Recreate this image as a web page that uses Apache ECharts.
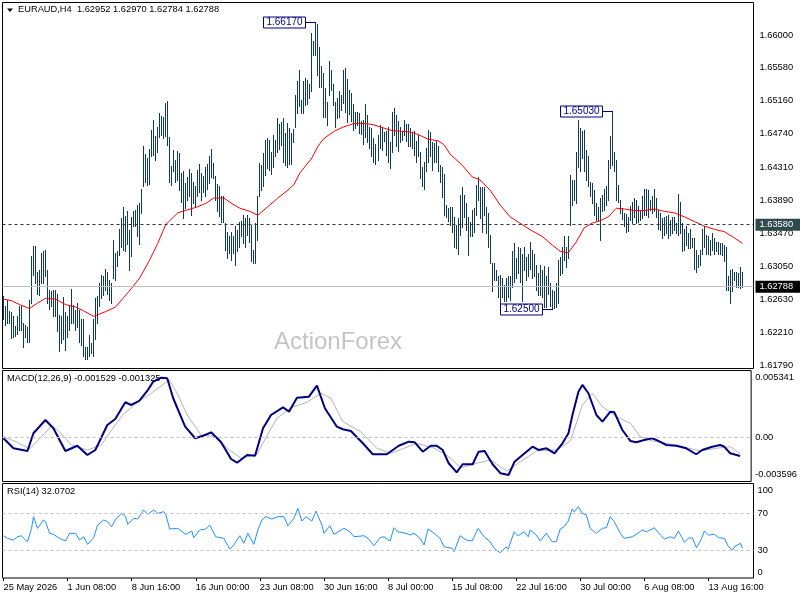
<!DOCTYPE html>
<html>
<head>
<meta charset="utf-8">
<title>EURAUD H4</title>
<script src="https://cdn.jsdelivr.net/npm/echarts@6.0.0/dist/echarts.min.js"></script>
<style>
  html, body { margin: 0; padding: 0; background: #fff; }
  #main { width: 800px; height: 600px; }
</style>
</head>
<body>
<div id="main"></div>
<script>
// H4 bars, 25 May 2026 00:00 onwards, one entry per bar (high / low)
var highs = [
  // 25 May - 3 Jun
  1.6267,1.6254,1.6262,1.6248,1.6246,1.6241,1.6229,1.6241,1.6254,1.6254,
  1.6232,1.6230,1.6227,1.6262,1.6318,1.6331,1.6331,1.6297,1.6300,1.6322,
  1.6324,1.6326,1.6300,1.6275,1.6273,1.6275,1.6275,1.6270,1.6243,1.6241,
  1.6266,1.6246,1.6241,1.6256,1.6276,1.6256,1.6249,1.6258,1.6249,1.6237,
  1.6237,1.6202,1.6202,1.6217,1.6207,1.6237,1.6264,1.6267,1.6283,1.6294,
  1.6292,1.6302,1.6298,1.6288,1.6283,1.6339,1.6322,1.6324,1.6352,1.6366,
  1.6381,1.6369,1.6375,1.6351,1.6368,1.6376,1.6377,1.6383,1.6385,1.6404,
  1.6458,1.6448,1.6443,1.6455,
  // 8 Jun - 22 Jun
  1.6479,1.6491,1.6471,1.6483,1.6501,1.6497,1.6496,1.6513,1.6516,1.6470,
  1.6433,1.6453,1.6441,1.6452,1.6449,1.6424,1.6426,1.6411,1.6419,1.6429,
  1.6424,1.6413,1.6407,1.6428,1.6436,1.6424,1.6420,1.6432,1.6436,1.6445,
  1.6454,1.6437,1.6420,1.6410,1.6407,1.6394,1.6394,1.6360,1.6349,1.6343,
  1.6349,1.6343,1.6356,1.6351,1.6362,1.6363,1.6370,1.6366,1.6370,1.6366,
  1.6358,1.6326,1.6360,1.6394,1.6437,1.6434,1.6449,1.6466,1.6468,1.6466,
  1.6451,1.6472,1.6466,1.6494,1.6487,1.6489,1.6494,1.6475,1.6488,1.6481,
  1.6475,1.6480,1.6524,1.6541,1.6555,
  // 23 Jun - 8 Jul
  1.6517,1.6541,1.6545,1.6543,1.6537,1.6602,1.6592,1.6617,1.6614,1.6585,
  1.6560,1.6551,1.6533,1.6515,1.6567,1.6555,1.6538,1.6515,1.6520,1.6529,
  1.6524,1.6555,1.6558,1.6544,1.6530,1.6526,1.6512,1.6502,1.6502,1.6500,
  1.6490,1.6492,1.6512,1.6498,1.6483,1.6481,1.6468,1.6461,1.6472,1.6485,
  1.6483,1.6476,1.6477,1.6483,1.6464,1.6502,1.6507,1.6498,1.6490,1.6483,
  1.6477,1.6492,1.6486,1.6487,1.6481,1.6476,1.6477,1.6465,1.6472,1.6451,
  1.6432,1.6438,1.6456,1.6479,1.6476,1.6464,1.6462,1.6466,1.6459,1.6434,
  1.6432,1.6422,1.6383,1.6379,1.6380,
  // 8 Jul - 28 Jul
  1.6380,1.6368,1.6358,1.6366,1.6396,1.6406,1.6396,1.6385,1.6368,1.6361,
  1.6377,1.6379,1.6409,1.6419,1.6406,1.6406,1.6406,1.6381,1.6373,1.6345,
  1.6309,1.6309,1.6300,1.6292,1.6294,1.6290,1.6281,1.6290,1.6292,1.6292,
  1.6324,1.6334,1.6315,1.6330,1.6328,1.6321,1.6330,1.6317,1.6321,1.6336,
  1.6326,1.6321,1.6307,1.6296,1.6307,1.6300,1.6305,1.6292,1.6304,1.6283,
  1.6275,1.6273,1.6284,1.6313,1.6317,1.6330,1.6344,1.6330,1.6343,1.6421,
  1.6415,1.6415,1.6451,1.6492,1.6481,1.6477,1.6479,1.6453,1.6446,1.6413,
  1.6411,1.6402,1.6385,1.6381,1.6392,
  // 28 Jul - 18 Aug
  1.6396,1.6403,1.6407,1.6441,1.6471,1.6503,1.6451,1.6441,1.6409,1.6390,
  1.6379,1.6373,1.6372,1.6368,1.6382,1.6387,1.6392,1.6390,1.6382,1.6377,
  1.6394,1.6404,1.6403,1.6402,1.6390,1.6394,1.6403,1.6392,1.6377,1.6373,
  1.6366,1.6368,1.6369,1.6370,1.6364,1.6368,1.6368,1.6360,1.6397,1.6387,
  1.6360,1.6353,1.6356,1.6347,1.6352,1.6341,1.6341,1.6326,1.6319,1.6326,
  1.6353,1.6356,1.6345,1.6343,1.6339,1.6347,1.6341,1.6336,1.6336,1.6334,
  1.6334,1.6332,1.6330,1.6292,1.6300,1.6302,1.6298,1.6298,1.6296,1.6304,
  1.6297
];
var lows = [
  1.6238,1.6230,1.6232,1.6233,1.6213,1.6215,1.6216,1.6218,1.6224,1.6224,
  1.6202,1.6215,1.6208,1.6208,1.6258,1.6294,1.6284,1.6270,1.6268,1.6284,
  1.6284,1.6292,1.6258,1.6251,1.6254,1.6241,1.6241,1.6222,1.6197,1.6207,
  1.6212,1.6198,1.6215,1.6224,1.6232,1.6232,1.6224,1.6228,1.6208,1.6205,
  1.6190,1.6186,1.6187,1.6190,1.6194,1.6190,1.6212,1.6232,1.6254,1.6264,
  1.6268,1.6275,1.6270,1.6262,1.6258,1.6290,1.6287,1.6305,1.6319,1.6330,
  1.6326,1.6324,1.6333,1.6300,1.6318,1.6356,1.6356,1.6343,1.6333,1.6373,
  1.6407,1.6412,1.6409,1.6410,
  1.6445,1.6447,1.6441,1.6451,1.6470,1.6472,1.6468,1.6471,1.6460,1.6413,
  1.6409,1.6426,1.6413,1.6415,1.6402,1.6387,1.6366,1.6379,1.6390,1.6394,
  1.6370,1.6385,1.6381,1.6394,1.6400,1.6390,1.6400,1.6394,1.6404,1.6411,
  1.6419,1.6417,1.6390,1.6375,1.6369,1.6361,1.6361,1.6326,1.6315,1.6322,
  1.6313,1.6322,1.6307,1.6324,1.6330,1.6343,1.6334,1.6330,1.6345,1.6336,
  1.6311,1.6309,1.6309,1.6339,1.6394,1.6402,1.6407,1.6421,1.6430,1.6428,
  1.6423,1.6432,1.6445,1.6451,1.6455,1.6460,1.6438,1.6434,1.6432,1.6436,
  1.6436,1.6464,1.6483,1.6500,1.6509,
  1.6500,1.6500,1.6511,1.6512,1.6520,1.6528,1.6574,1.6575,1.6549,1.6534,
  1.6534,1.6495,1.6496,1.6485,1.6524,1.6530,1.6511,1.6483,1.6494,1.6496,
  1.6504,1.6513,1.6502,1.6489,1.6499,1.6490,1.6479,1.6481,1.6485,1.6475,
  1.6474,1.6461,1.6470,1.6464,1.6456,1.6445,1.6438,1.6436,1.6441,1.6456,
  1.6453,1.6465,1.6447,1.6438,1.6430,1.6451,1.6473,1.6458,1.6452,1.6464,
  1.6466,1.6473,1.6465,1.6458,1.6458,1.6456,1.6447,1.6438,1.6445,1.6418,
  1.6407,1.6404,1.6426,1.6438,1.6445,1.6428,1.6438,1.6438,1.6426,1.6413,
  1.6393,1.6370,1.6368,1.6363,1.6358,
  1.6349,1.6330,1.6328,1.6321,1.6345,1.6355,1.6368,1.6351,1.6319,1.6343,
  1.6343,1.6349,1.6370,1.6390,1.6366,1.6349,1.6370,1.6347,1.6330,1.6309,
  1.6273,1.6287,1.6287,1.6266,1.6258,1.6266,1.6260,1.6260,1.6266,1.6262,
  1.6279,1.6285,1.6290,1.6296,1.6285,1.6260,1.6300,1.6287,1.6292,1.6302,
  1.6290,1.6292,1.6275,1.6268,1.6268,1.6266,1.6253,1.6253,1.6270,1.6254,
  1.6250,1.6252,1.6253,1.6258,1.6294,1.6296,1.6313,1.6304,1.6315,1.6358,
  1.6383,1.6389,1.6385,1.6432,1.6426,1.6443,1.6426,1.6415,1.6407,1.6394,
  1.6385,1.6370,1.6364,1.6364,1.6338,
  1.6376,1.6377,1.6383,1.6390,1.6430,1.6434,1.6426,1.6390,1.6387,1.6373,
  1.6365,1.6356,1.6349,1.6350,1.6364,1.6360,1.6368,1.6360,1.6361,1.6364,
  1.6366,1.6370,1.6370,1.6368,1.6377,1.6373,1.6375,1.6368,1.6353,1.6351,
  1.6341,1.6345,1.6347,1.6341,1.6345,1.6347,1.6351,1.6347,1.6345,1.6347,
  1.6324,1.6326,1.6332,1.6328,1.6328,1.6330,1.6302,1.6298,1.6304,1.6307,
  1.6321,1.6330,1.6321,1.6321,1.6319,1.6326,1.6321,1.6324,1.6321,1.6321,
  1.6319,1.6311,1.6275,1.6275,1.6258,1.6273,1.6287,1.6279,1.6279,1.6277,
  1.6278
];

// red moving average, read at bar positions
var maIdx = [0,4,8,13,17,21,26,31,36,40,45,51,56,60,64,68,73,77,81,87,92,96,101,105,110,114,118,123,127,132,137,142,145,148,154,157,160,165,170,175,180,184,189,194,199,204,207,212,217,220,223,229,234,238,243,248,253,259,264,269,274,278,282,286,290,294,298,302,306,310,315,320,325,330,335,340,345,350,355,360,365,369];
var maVal = [1.6263,1.6261,1.6256,1.6251,1.6258,1.6264,1.6263,1.6256,1.6253,1.6248,1.6241,1.6247,1.6253,1.6265,1.6277,1.6290,1.6313,1.6334,1.6358,1.6373,1.6377,1.6380,1.6385,1.6392,1.6392,1.6385,1.6379,1.6375,1.6370,1.6381,1.6392,1.6402,1.6409,1.6424,1.6443,1.6458,1.6468,1.6477,1.6483,1.6487,1.6487,1.6486,1.6482,1.6478,1.6477,1.6476,1.6473,1.6467,1.6465,1.6460,1.6448,1.6434,1.6419,1.6415,1.6402,1.6383,1.6368,1.6358,1.6350,1.6343,1.6332,1.6324,1.6322,1.6336,1.6354,1.6360,1.6363,1.6368,1.6379,1.6378,1.6376,1.6376,1.6378,1.6375,1.6373,1.6368,1.6362,1.6356,1.6352,1.6349,1.6341,1.6334];

// MACD(12,26,9) main and signal
var macdIdx = [0,5,12,15,21,25,31,37,42,46,52,56,61,64,68,72,75,79,82,85,91,96,100,104,109,114,117,122,126,130,134,140,143,147,153,157,161,167,170,174,180,185,192,198,203,206,210,214,217,220,223,227,230,235,238,241,245,249,253,256,260,265,268,272,276,280,283,285,288,290,293,297,300,304,306,310,314,317,321,325,328,332,337,342,347,350,355,359,361,364,369];
var macdVal = [-0.00008,-0.00090,-0.00112,0.00033,0.00142,0.00074,-0.00112,-0.00069,-0.00145,-0.00104,0.00101,0.00150,0.00287,0.00265,0.00298,0.00380,0.00456,0.00489,0.00484,0.00320,0.00087,-0.00008,0.00013,0.00041,-0.00041,-0.00178,-0.00208,-0.00145,-0.00151,0.00074,0.00183,0.00246,0.00210,0.00325,0.00333,0.00423,0.00238,0.00087,0.00066,0.00052,-0.00049,-0.00139,-0.00139,-0.00069,-0.00036,-0.00041,-0.00118,-0.00069,-0.00069,-0.00104,-0.00213,-0.00287,-0.00221,-0.00221,-0.00118,-0.00112,-0.00221,-0.00295,-0.00309,-0.00200,-0.00145,-0.00077,-0.00104,-0.00090,-0.00131,-0.00049,0.00033,0.00183,0.00374,0.00429,0.00361,0.00183,0.00128,0.00210,0.00205,0.00060,-0.00030,-0.00041,-0.00022,-0.00008,-0.00030,-0.00063,-0.00069,-0.00090,-0.00139,-0.00104,-0.00077,-0.00063,-0.00077,-0.00131,-0.00153];
var sigIdx = [0,7,13,19,24,28,34,42,49,55,60,67,74,83,87,92,99,107,112,119,127,132,137,144,152,159,164,170,179,187,194,199,207,215,222,229,237,244,252,259,267,277,284,290,295,300,307,314,319,325,332,340,349,357,364,369];
var sigVal = [0.00005,-0.00041,-0.00096,0.00005,0.00093,0.00046,-0.00063,-0.00104,-0.00063,0.00079,0.00189,0.00287,0.00361,0.00470,0.00361,0.00183,0.00019,0.00005,-0.00090,-0.00172,-0.00139,0.00013,0.00156,0.00243,0.00287,0.00361,0.00320,0.00128,0.00046,-0.00090,-0.00131,-0.00100,-0.00049,-0.00085,-0.00145,-0.00249,-0.00213,-0.00186,-0.00276,-0.00200,-0.00112,-0.00104,-0.00030,0.00265,0.00361,0.00251,0.00169,0.00115,0.00005,-0.00030,-0.00049,-0.00077,-0.00112,-0.00090,-0.00077,-0.00133];

// RSI(14)
var rsiIdx = [0,2,5,7,9,10,12,14,15,17,20,21,23,25,28,31,33,36,38,40,42,45,47,50,52,54,56,59,61,62,65,67,70,72,75,77,80,81,83,87,91,94,95,98,101,103,106,110,113,115,118,120,122,125,127,129,131,134,137,140,142,145,147,149,151,154,156,159,160,163,165,170,173,175,180,182,185,188,190,193,195,197,201,203,205,208,210,212,215,218,220,224,225,228,231,234,237,240,243,245,248,251,252,255,257,260,262,263,266,268,271,274,276,278,280,282,284,285,287,289,291,293,296,299,301,303,305,308,310,314,316,319,321,324,325,328,330,333,335,337,340,342,344,346,348,350,352,355,357,360,362,364,365,368,369];
var rsiVal = [45.7,42.9,41.1,44.6,45.7,42.9,39.2,53.7,66.3,53.7,62.7,60.9,48.3,47.2,42.9,40.0,48.3,48.3,41.1,44.6,36.4,43.6,57.3,62.7,60.9,55.5,63.8,69.9,66.3,58.0,64.5,63.8,73.5,68.9,73.5,69.9,71.7,68.9,53.0,53.7,47.2,50.8,43.6,51.9,53.0,57.3,44.6,42.9,31.3,35.7,45.7,37.5,48.3,36.4,51.9,62.7,66.3,63.8,66.3,66.3,56.5,64.5,75.3,61.6,66.3,61.6,72.4,57.3,48.3,56.5,47.2,53.7,50.0,44.6,45.7,42.9,34.9,43.6,44.6,40.0,54.4,50.0,48.3,46.5,48.3,42.9,35.7,53.0,48.3,42.9,33.8,32.1,28.4,45.7,41.1,40.0,53.7,44.6,39.2,32.1,27.3,33.8,31.3,50.0,45.7,50.0,44.6,51.9,46.5,40.0,48.3,39.2,39.2,53.0,55.5,61.6,74.6,71.7,77.1,69.9,68.1,53.7,48.3,53.7,54.4,66.3,60.9,48.3,42.9,44.6,47.2,51.9,50.0,53.0,54.4,46.5,42.2,44.6,42.9,50.8,38.6,42.9,43.6,32.8,40.0,50.8,46.5,47.2,43.6,42.9,33.8,30.3,33.8,37.5,32.1];

// axis labels
var priceTicks = [1.66000,1.65580,1.65160,1.64740,1.64310,1.63890,1.63470,1.63050,1.62630,1.62210,1.61790];
var dateLabels = ['25 May 2026','1 Jun 08:00','8 Jun 16:00','16 Jun 00:00','23 Jun 08:00','30 Jun 16:00','8 Jul 00:00','15 Jul 08:00','22 Jul 16:00','30 Jul 00:00','6 Aug 08:00','13 Aug 16:00'];
var lastOhlc = [1.62952, 1.62970, 1.62784, 1.62788];
var levelLine = 1.63580;
var noteBars = [[156, 'high'], [304, 'high'], [274, 'low']];

var FONT = 'Liberation Sans';
var barColor = '#103b57';
var dateTicks = dateLabels.map(function (d, k) { return k * 32; });

function pairs(idx, val) {
    return idx.map(function (x, k) { return [x, val[k]]; });
}

var barData = highs.map(function (h, i) { return [i, h, lows[i]]; });

var chart = echarts.init(document.getElementById('main'));

function xAxisFor(g) {
    return {
        type: 'value', gridIndex: g, min: -0.5, max: 374.5,
        show: g === 2,
        axisLine: { show: false, onZero: false },
        splitLine: { show: false },
        axisTick: { show: true, length: 3, customValues: dateTicks, lineStyle: { color: '#000' } },
        axisLabel: {
            customValues: dateTicks, align: 'left', margin: 5,
            fontFamily: FONT, fontSize: 9.3, color: '#000',
            formatter: function (v) { return dateLabels[Math.round(v / 32)] || ''; }
        }
    };
}

function sideAxis(g, min, max, values, margin, fmt) {
    return {
        type: 'value', gridIndex: g, position: 'right',
        min: min, max: max,
        axisLine: { show: false, onZero: false },
        splitLine: { show: false },
        axisTick: { show: false },
        axisLabel: {
            customValues: values, margin: margin,
            fontFamily: FONT, fontSize: 9.3, color: '#000',
            formatter: fmt
        }
    };
}

var option = {
    animation: false,
    backgroundColor: '#fff',
    grid: [
        { left: 2.5, top: 2.5, width: 751, height: 366, show: true, borderColor: '#000', borderWidth: 1 },
        { left: 2.5, top: 370.5, width: 751, height: 111, show: true, borderColor: '#000', borderWidth: 1 },
        { left: 2.5, top: 483.5, width: 751, height: 94.5, show: true, borderColor: '#000', borderWidth: 1 }
    ],
    xAxis: [xAxisFor(0), xAxisFor(1), xAxisFor(2)],
    yAxis: [
        sideAxis(0, 1.617445, 1.664147, priceTicks, 6, function (v) { return v.toFixed(5); }),
        sideAxis(1, -0.003623, 0.005475, [0.004885, 0, -0.003033], 4, function (v) {
            if (v > 0.001) return '0.005341';
            if (v < -0.001) return '-0.003596';
            return '0.00';
        }),
        sideAxis(2, 0, 102.2, [94.4, 70, 30, 6.2], 4, function (v) {
            if (v > 90) return '100';
            if (v < 10) return '0';
            return String(Math.round(v));
        })
    ],
    series: [
        {
            type: 'custom', name: 'EURAUD', xAxisIndex: 0, yAxisIndex: 0,
            data: barData, encode: { x: 0, y: [1, 2] },
            renderItem: function (params, api) {
                var top = api.coord([api.value(0), api.value(1)]);
                var bot = api.coord([api.value(0), api.value(2)]);
                var x = Math.floor(top[0]) + 0.5;
                return {
                    type: 'line',
                    shape: { x1: x, y1: Math.round(top[1]), x2: x, y2: Math.round(bot[1]) + 1 },
                    style: { stroke: barColor, lineWidth: 1 }
                };
            }
        },
        {
            type: 'line', name: 'MA', xAxisIndex: 0, yAxisIndex: 0,
            data: pairs(maIdx, maVal), symbol: 'none',
            lineStyle: { color: '#ff0000', width: 1 },
            markLine: {
                silent: true, symbol: ['none', 'none'], animation: false, precision: 5,
                data: [
                    {
                        yAxis: levelLine,
                        lineStyle: { color: '#333', type: [3, 3], width: 1 },
                        label: {
                            show: true, position: 'end', distance: 2,
                            formatter: levelLine.toFixed(5),
                            backgroundColor: '#2f4a4a', color: '#fff',
                            padding: [2, 8, 1, 4], fontFamily: FONT, fontSize: 9.3
                        }
                    },
                    {
                        yAxis: lastOhlc[3],
                        lineStyle: { color: '#c0c0c0', type: 'solid', width: 1 },
                        label: {
                            show: true, position: 'end', distance: 2,
                            formatter: lastOhlc[3].toFixed(5),
                            backgroundColor: '#000', color: '#fff',
                            padding: [2, 8, 1, 4], fontFamily: FONT, fontSize: 9.3
                        }
                    }
                ]
            }
        },
        {
            type: 'line', name: 'Signal', xAxisIndex: 1, yAxisIndex: 1,
            data: pairs(sigIdx, sigVal), symbol: 'none',
            lineStyle: { color: '#b4b4b4', width: 1 },
            markLine: {
                silent: true, symbol: ['none', 'none'], animation: false, precision: 6,
                label: { show: false },
                lineStyle: { color: '#c0c0c0', type: [3, 3], width: 1 },
                data: [{ yAxis: 0 }]
            }
        },
        {
            type: 'line', name: 'MACD', xAxisIndex: 1, yAxisIndex: 1,
            data: pairs(macdIdx, macdVal), symbol: 'none',
            lineStyle: { color: '#000080', width: 2 }
        },
        {
            type: 'line', name: 'RSI', xAxisIndex: 2, yAxisIndex: 2,
            data: pairs(rsiIdx, rsiVal), symbol: 'none',
            lineStyle: { color: '#1e90ff', width: 1 },
            markLine: {
                silent: true, symbol: ['none', 'none'], animation: false,
                label: { show: false },
                lineStyle: { color: '#c0c0c0', type: [3, 3], width: 1 },
                data: [{ yAxis: 70 }, { yAxis: 30 }]
            }
        }
    ]
};

chart.setOption(option);

// texts and price notes
var elements = [
    { type: 'polygon', shape: { points: [[7, 8.5], [13, 8.5], [10, 12]] }, style: { fill: '#000' } },
    {
        type: 'text', left: 18, top: 5,
        style: { text: 'EURAUD,H4  ' + lastOhlc.map(function (v) { return v.toFixed(5); }).join(' '), font: '9.3px ' + FONT, fill: '#000' }
    },
    { type: 'text', left: 7, top: 374, style: { text: 'MACD(12,26,9) -0.001529 -0.001325', font: '9.3px ' + FONT, fill: '#000' } },
    { type: 'text', left: 7, top: 487, style: { text: 'RSI(14) 32.0702', font: '9.3px ' + FONT, fill: '#000' } },
    { type: 'text', left: 274, top: 330.5, style: { text: 'ActionForex', font: '24px ' + FONT, fill: '#c4c4c4' } }
];

noteBars.forEach(function (n) {
    var i = n[0];
    var v = n[1] === 'high' ? highs[i] : lows[i];
    var p = chart.convertToPixel({ xAxisIndex: 0, yAxisIndex: 0 }, [i, v]);
    var bx = Math.floor(p[0]);
    var by = Math.round(p[1]) + 0.5;
    var right = bx - 9.5;
    elements.push({
        type: 'line', z: 20,
        shape: { x1: right, y1: by, x2: bx + 1, y2: by },
        style: { stroke: '#000080', lineWidth: 1 }
    });
    elements.push({
        type: 'rect', z: 20,
        shape: { x: right - 42, y: by - 5.5, width: 42, height: 11 },
        style: { fill: '#fff', stroke: '#000080', lineWidth: 1 }
    });
    elements.push({
        type: 'text', z: 21, x: right - 21, y: by,
        style: { text: v.toFixed(5), font: '10px ' + FONT, fill: '#000080', align: 'center', verticalAlign: 'middle' }
    });
});

chart.setOption({ graphic: { elements: elements } });
</script>
</body>
</html>
